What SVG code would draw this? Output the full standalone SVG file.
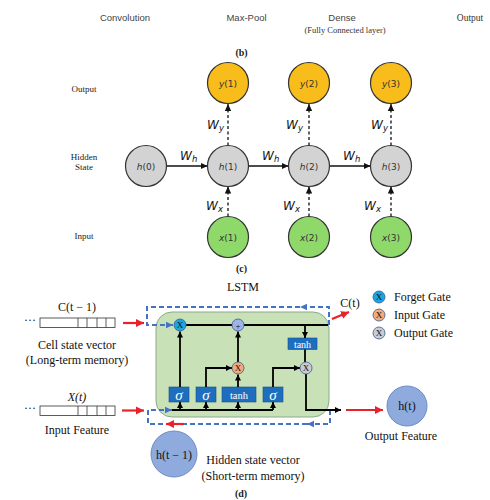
<svg xmlns="http://www.w3.org/2000/svg" width="490" height="500" viewBox="0 0 490 500">
<style>
.sans{font-family:"Liberation Sans",Arial,sans-serif}
.serif{font-family:"Liberation Serif","Times New Roman",serif}
.hdr{font-size:9.5px;fill:#444;text-anchor:middle}
.lbl{font-size:9px;fill:#222;text-anchor:middle}
.node{stroke:#333;stroke-width:1.2}
.yn{fill:#F8BD1A}
.hn{fill:#D3D3D3}
.xn{fill:#8FD96B}
.nt{font-family:"DejaVu Sans",sans-serif;font-size:9px;fill:#333;text-anchor:middle}
.w{font-family:"DejaVu Sans",sans-serif;font-style:italic;font-size:12px;fill:#111}
.solid{stroke:#111;stroke-width:1.3;fill:none}
.dash{stroke:#111;stroke-width:1.3;fill:none;stroke-dasharray:3,2.5}
.blk{stroke:#000;stroke-width:1.8;fill:none}
.bdash{stroke:#4472C4;stroke-width:2;fill:none;stroke-dasharray:5,3}
.red{stroke:#E8212B;stroke-width:2.2;fill:none}
.box{fill:#1F6EBE;stroke:#174F8A;stroke-width:0.6}
.boxt{font-family:"Liberation Serif",serif;fill:#fff;text-anchor:middle}
.gate{stroke:#3A5A8A;stroke-width:0.8}
.gt{font-family:"Liberation Serif",serif;font-size:9px;fill:#111;text-anchor:middle}
.txt{font-family:"Liberation Serif","Times New Roman",serif;font-size:12px;fill:#111;text-anchor:middle}
.vec{fill:#fff;stroke:#333;stroke-width:0.8}
</style>
<defs>
<marker id="ar" markerUnits="userSpaceOnUse" markerWidth="8" markerHeight="8" refX="7" refY="4" orient="auto"><path d="M0,0.8 L7,4 L0,7.2 z" fill="#111"/></marker>
<marker id="ak" markerUnits="userSpaceOnUse" markerWidth="7" markerHeight="7" refX="6" refY="3.5" orient="auto"><path d="M0,0.5 L6,3.5 L0,6.5 z" fill="#000"/></marker>
<marker id="ab" markerUnits="userSpaceOnUse" markerWidth="8" markerHeight="8" refX="7" refY="4" orient="auto"><path d="M0,0.8 L7,4 L0,7.2 z" fill="#4472C4"/></marker>
<marker id="arr" markerUnits="userSpaceOnUse" markerWidth="9" markerHeight="9" refX="8" refY="4.5" orient="auto"><path d="M0,0.5 L8,4.5 L0,8.5 z" fill="#E8212B"/></marker>
</defs>

<g id="headers">
<text class="sans hdr" x="125" y="20.5">Convolution</text>
<text class="sans hdr" x="246.5" y="20.5">Max-Pool</text>
<text class="sans hdr" x="342" y="20.5">Dense</text>
<text class="serif" x="345" y="32.5" font-size="8.5" fill="#333" text-anchor="middle">(Fully Connected layer)</text>
<text class="serif" x="470" y="20.5" font-size="9.5" fill="#333" text-anchor="middle">Output</text>
<text class="serif" x="241.5" y="55.5" font-size="10" font-weight="bold" fill="#222" text-anchor="middle">(b)</text>
</g>

<g id="row-labels">
<text class="serif lbl" x="84" y="92">Output</text>
<text class="serif lbl" x="84" y="160">Hidden</text>
<text class="serif lbl" x="84" y="170">State</text>
<text class="serif lbl" x="84" y="239">Input</text>
</g>

<g id="rnn-connectors">
<line class="solid" x1="166.5" y1="166" x2="207.5" y2="166" marker-end="url(#ar)"/>
<line class="solid" x1="248.5" y1="166" x2="288.5" y2="166" marker-end="url(#ar)"/>
<line class="solid" x1="329.5" y1="166" x2="370.5" y2="166" marker-end="url(#ar)"/>
<line class="dash" x1="228" y1="216.5" x2="228" y2="186.5" marker-end="url(#ar)"/>
<line class="dash" x1="309" y1="216.5" x2="309" y2="186.5" marker-end="url(#ar)"/>
<line class="dash" x1="391" y1="216.5" x2="391" y2="186.5" marker-end="url(#ar)"/>
<line class="dash" x1="228" y1="145.5" x2="228" y2="104" marker-end="url(#ar)"/>
<line class="dash" x1="309" y1="145.5" x2="309" y2="104" marker-end="url(#ar)"/>
<line class="dash" x1="391" y1="145.5" x2="391" y2="104" marker-end="url(#ar)"/>
<text class="w" x="180" y="160">W<tspan font-size="8.5" dy="2">h</tspan></text>
<text class="w" x="262" y="160">W<tspan font-size="8.5" dy="2">h</tspan></text>
<text class="w" x="343" y="160">W<tspan font-size="8.5" dy="2">h</tspan></text>
<text class="w" x="207" y="129">W<tspan font-size="8.5" dy="2">y</tspan></text>
<text class="w" x="286" y="129">W<tspan font-size="8.5" dy="2">y</tspan></text>
<text class="w" x="371" y="129">W<tspan font-size="8.5" dy="2">y</tspan></text>
<text class="w" x="206" y="210">W<tspan font-size="8.5" dy="2">x</tspan></text>
<text class="w" x="283" y="210">W<tspan font-size="8.5" dy="2">x</tspan></text>
<text class="w" x="364" y="210">W<tspan font-size="8.5" dy="2">x</tspan></text>
</g>

<g id="h0"><circle class="node hn" cx="146" cy="166" r="20.5"/><text class="nt" x="146" y="169.5"><tspan font-style="italic">h</tspan>(0)</text></g>
<g id="h1"><circle class="node hn" cx="228" cy="166" r="20.5"/><text class="nt" x="228" y="169.5"><tspan font-style="italic">h</tspan>(1)</text></g>
<g id="h2"><circle class="node hn" cx="309" cy="166" r="20.5"/><text class="nt" x="309" y="169.5"><tspan font-style="italic">h</tspan>(2)</text></g>
<g id="h3"><circle class="node hn" cx="391" cy="166" r="20.5"/><text class="nt" x="391" y="169.5"><tspan font-style="italic">h</tspan>(3)</text></g>
<g id="y1"><circle class="node yn" cx="228" cy="83" r="20.5"/><text class="nt" x="228" y="86.5"><tspan font-style="italic">y</tspan>(1)</text></g>
<g id="y2"><circle class="node yn" cx="309" cy="83" r="20.5"/><text class="nt" x="309" y="86.5"><tspan font-style="italic">y</tspan>(2)</text></g>
<g id="y3"><circle class="node yn" cx="391" cy="83" r="20.5"/><text class="nt" x="391" y="86.5"><tspan font-style="italic">y</tspan>(3)</text></g>
<g id="x1"><circle class="node xn" cx="228" cy="237" r="20.5"/><text class="nt" x="228" y="240.5"><tspan font-style="italic">x</tspan>(1)</text></g>
<g id="x2"><circle class="node xn" cx="309" cy="237" r="20.5"/><text class="nt" x="309" y="240.5"><tspan font-style="italic">x</tspan>(2)</text></g>
<g id="x3"><circle class="node xn" cx="391" cy="237" r="20.5"/><text class="nt" x="391" y="240.5"><tspan font-style="italic">x</tspan>(3)</text></g>

<g id="captions">
<text class="serif" x="241.5" y="272" font-size="10" font-weight="bold" fill="#222" text-anchor="middle">(c)</text>
<text class="txt" x="243" y="291" font-size="12">LSTM</text>
<text class="serif" x="241" y="497" font-size="10" font-weight="bold" fill="#222" text-anchor="middle">(d)</text>
</g>

<g id="cell-state-input">
<text class="txt" x="77" y="311" font-size="13">C(t − 1)</text>
<text class="txt" x="30" y="324" font-size="8">···</text>
<rect class="vec" x="40" y="318" width="75" height="9.5"/>
<path d="M78,318V327.5M87,318V327.5M97,318V327.5M106,318V327.5" stroke="#333" stroke-width="0.8"/>
<text class="txt" x="77" y="349">Cell state vector</text>
<text class="txt" x="77" y="364">(Long-term memory)</text>
</g>

<g id="input-feature">
<text class="txt" x="77" y="401" font-size="13" font-style="italic">X(t)</text>
<text class="txt" x="30" y="412" font-size="8">···</text>
<rect class="vec" x="40" y="406" width="75" height="9.5"/>
<path d="M78,406V415.5M87,406V415.5M97,406V415.5M106,406V415.5" stroke="#333" stroke-width="0.8"/>
<text class="txt" x="77" y="434">Input Feature</text>
</g>

<g id="lstm-cell">
<rect x="156" y="312" width="173" height="105" rx="16" fill="#C8E1B7" stroke="#8DA98A" stroke-width="1"/>
<rect class="box" x="288" y="338" width="29" height="11.5"/>
<text class="boxt" x="302.5" y="347.5" font-size="10">tanh</text>
<rect class="box" x="169" y="387" width="20" height="15"/>
<text class="boxt" x="179" y="399.5" font-size="15" font-style="italic">σ</text>
<rect class="box" x="196" y="387" width="20" height="15"/>
<text class="boxt" x="206" y="399.5" font-size="15" font-style="italic">σ</text>
<rect class="box" x="222" y="387" width="34" height="15"/>
<text class="boxt" x="239" y="398.5" font-size="10.5">tanh</text>
<rect class="box" x="263" y="387" width="20" height="15"/>
<text class="boxt" x="273" y="399.5" font-size="15" font-style="italic">σ</text>
</g>

<g id="connectors">
<line class="red" x1="123" y1="323" x2="144" y2="323" marker-end="url(#arr)"/>
<line class="red" x1="122" y1="410.5" x2="144" y2="410.5" marker-end="url(#arr)"/>
<path class="bdash" d="M329,325V307H300" marker-end="url(#ab)"/>
<path class="bdash" d="M300,307H147V325H173" marker-end="url(#ab)"/>
<path class="bdash" d="M330,410V424H307" marker-end="url(#ab)"/>
<path class="bdash" d="M307,424H148V410H172" marker-end="url(#ab)"/>
<line class="red" x1="184" y1="424" x2="166" y2="424" marker-end="url(#arr)"/>
<line class="red" x1="332" y1="319" x2="349" y2="312" marker-end="url(#arr)"/>
<line class="red" x1="346" y1="410" x2="383" y2="410" marker-end="url(#arr)"/>
<path class="blk" d="M186,325H232M244,325H328"/>
<path class="blk" d="M305,325V338" marker-end="url(#ak)"/>
<path class="blk" d="M180,387V331.5" marker-end="url(#ak)"/>
<path class="blk" d="M206,387V368H232" marker-end="url(#ak)"/>
<path class="blk" d="M238,387V374.5" marker-end="url(#ak)"/>
<path class="blk" d="M238,362V331.5" marker-end="url(#ak)"/>
<path class="blk" d="M273,387V368H300" marker-end="url(#ak)"/>
<path class="blk" d="M305,349.5V362"/>
<path class="blk" d="M306,374V410H341" marker-end="url(#ak)"/>
<path class="blk" d="M172,410H273"/>
<path class="blk" d="M180,410V402" marker-end="url(#ak)"/>
<path class="blk" d="M206,410V402" marker-end="url(#ak)"/>
<path class="blk" d="M238,410V402" marker-end="url(#ak)"/>
<path class="blk" d="M273,410V402" marker-end="url(#ak)"/>
</g>

<g id="gates">
<circle class="gate" cx="180" cy="325" r="6" fill="#1BA6E0"/><text class="gt" x="180" y="328.3">X</text>
<circle class="gate" cx="238" cy="325" r="6" fill="#9FB3E6"/><text class="gt" x="238" y="329.3" font-size="12" font-family="DejaVu Sans, sans-serif">+</text>
<circle class="gate" cx="238" cy="368" r="6" fill="#F4A97C"/><text class="gt" x="238" y="371.3">X</text>
<circle class="gate" cx="306" cy="368" r="6" fill="#C9CAD2"/><text class="gt" x="306" y="371.3">X</text>
</g>

<g id="ct-label"><text class="txt" x="350" y="307" font-size="13">C(t)</text></g>

<g id="legend">
<circle class="gate" cx="379" cy="297" r="6" fill="#1BA6E0"/><text class="gt" x="379" y="300.3">X</text>
<text class="serif" x="394" y="301" font-size="12" fill="#111">Forget Gate</text>
<circle class="gate" cx="379" cy="315" r="6" fill="#F4A97C"/><text class="gt" x="379" y="318.3">X</text>
<text class="serif" x="394" y="319" font-size="12" fill="#111">Input Gate</text>
<circle class="gate" cx="379" cy="333" r="6" fill="#C9CAD2"/><text class="gt" x="379" y="336.3">X</text>
<text class="serif" x="394" y="337" font-size="12" fill="#111">Output Gate</text>
</g>

<g id="ht">
<circle cx="407" cy="406" r="20" fill="#8FAADC" stroke="#6E8CC4" stroke-width="1"/>
<text class="txt" x="407" y="410" font-size="12.5">h(t)</text>
<text class="txt" x="401" y="440">Output Feature</text>
</g>

<g id="ht-1">
<circle cx="174" cy="454" r="23" fill="#8FAADC" stroke="#6E8CC4" stroke-width="1"/>
<text class="txt" x="174" y="458.5" font-size="12.5">h(t − 1)</text>
<text class="txt" x="253" y="464">Hidden state vector</text>
<text class="txt" x="253" y="480">(Short-term memory)</text>
</g>
</svg>
